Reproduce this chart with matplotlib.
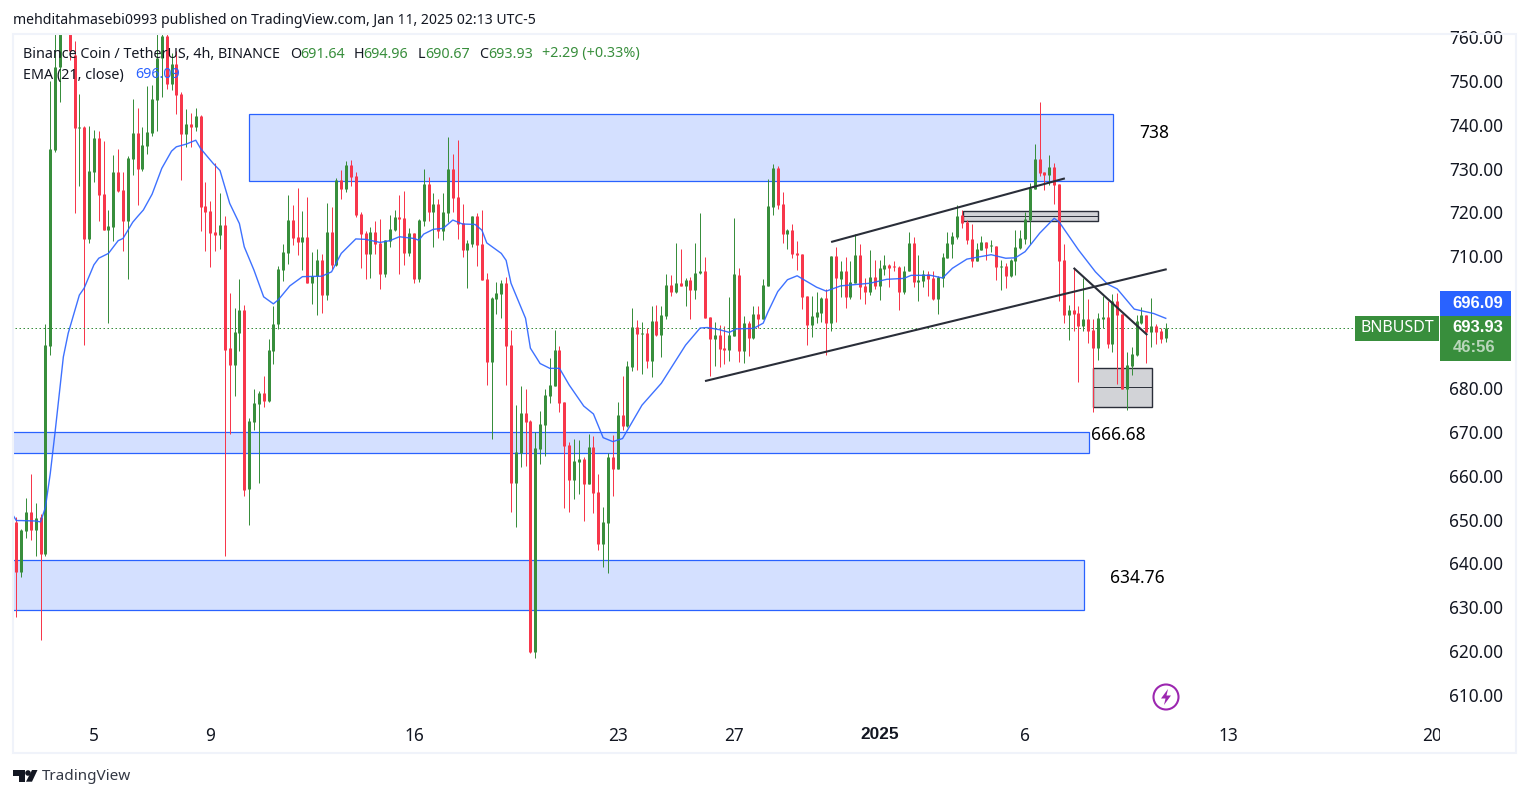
"""
plot.py
---------
BNBUSDT 4h candles with EMA 21, zones and trend lines
---------
"""
import matplotlib
matplotlib.use('Agg')
import matplotlib.pyplot as plt
from matplotlib.patches import Rectangle, Circle, Polygon
from matplotlib.transforms import Bbox, TransformedBbox, ScaledTranslation
import numpy as np

plt.rcParams['font.family'] = ['Noto Sans', 'DejaVu Sans']

opens = [649.7,638.3,647.7,651.9,647.8,650.8,642.4,689.8,734.5,753.5,
    763,775,756.1,739.4,739.8,714.2,729.4,737.2,724.4,716.2,
    716.9,729.4,725.3,718.3,732.4,738.3,730.1,735.4,738.3,745.9,
    755.4,760.5,749.5,754,747.2,738.1,740.4,739.7,742.2,721.7,
    720.6,715.8,715.1,717.4,689.3,685.4,692.8,698,657.2,672.4,
    676.6,679,677.2,688.6,694.9,707.1,711,718.5,714.6,713.5,
    714.6,704.1,705.7,709.4,701.4,715.8,708.2,727.6,725.6,731,
    728.5,719.9,715.5,710.8,715.8,713.3,706.2,713.7,716.2,719.2,
    719,711,715.5,705,718.3,726.7,720.3,722.2,716,720.1,
    730.1,723.7,717.8,711.7,713,719.4,713,705,686.1,700.5,
    701.6,704.1,690,658.6,665.4,674.5,672.7,620,666.3,671.8,
    678.4,680.7,688.9,677,667.2,659.2,663.4,664,658.3,666.8,
    656.5,644.7,649.4,664.5,661.8,674.1,671.6,685,694.1,692.5,
    692.8,686.4,695.5,692.3,696.6,703.7,702.1,704.2,703.5,704.9,
    702.6,706.5,706.9,696.4,691.4,692.3,689.3,688.9,692.1,706,
    688.7,695.1,691.6,697.1,696,703.5,721.5,730.4,722.2,715.4,
    716.3,711,710.8,701.2,694.6,696.4,697.3,700.8,695.1,710.3,
    705.1,706.9,701,704.2,710.6,703.5,702.1,705.6,703.5,707.4,
    708.3,707.9,707.8,702.1,706.9,713.3,704.4,704.7,706.3,705.3,
    700.6,705.3,709.9,713.1,714.7,719.6,718.1,714.2,709.2,711.7,
    713.5,712.5,712.6,707.8,708.1,705.8,709.2,712.2,714.2,718.5,
    725.6,732.4,729.4,728.8,730.6,726.7,709.4,696.8,698,697.3,
    694.3,695.9,693.4,689.3,695.9,696.4,690.2,700,697.1,680,
    685.2,687.7,695,696.8,693,694.3,693.2,691.64]
highs = [650.9,648,655.1,660.7,654,651.4,694.8,750.2,764,770,
    778,777,759.3,747.2,740,739.9,739,738.8,736.5,720.8,
    733.3,734.7,729.4,733.1,746.1,744,739.7,749.1,749.3,761,
    764,761,756.5,757,747.7,743.8,742.9,744,742.4,727.2,
    722.8,731.5,724.7,719.4,701.8,698.4,705,699.1,673.4,680.1,
    679.5,682.9,691.4,698.9,708,713,724.2,721.9,725.7,720.6,
    723.7,711.2,711.9,710.8,722.4,721.5,728.1,729.9,732,732.2,
    729.4,720.3,716,716.9,718.3,718.7,713.9,719.6,720.8,724.2,
    725.1,716.7,715.5,718.7,730.1,728.3,724.7,723.3,724.7,737.4,
    733.5,736.7,722.2,713.9,719.4,720.1,720.8,706.4,700.9,704.4,
    704.8,705.5,693.4,676.3,680.7,680,672.9,670.2,675,680,
    687,693.4,689.8,677,667.9,668.6,668.4,664.5,669.7,669.3,
    660.6,653.1,665.4,669.5,677,682.9,686.4,698.5,695.7,695.3,
    693.9,698.9,699.1,698.9,706.2,706,713.3,711.9,705.3,705.5,
    713.3,720.1,710.1,696.4,695.3,694.6,694.4,701,719,707.6,
    696.7,695.5,698.9,698.9,705.1,727.9,731.3,730.9,724.9,716.5,
    717.6,713.8,710.8,701.2,701.2,702.1,701,702.7,710.3,712.4,
    709.2,710.1,709.2,715.4,713.1,705.3,711.7,709.4,709.4,710.6,
    708.5,709.2,708.1,708.1,715.8,714.7,710.6,707.2,706.9,706.9,
    705.8,711,715.8,715.8,722,720.8,718.6,717.6,713.3,714.9,
    713.5,714,712.6,709.4,708.8,709.7,716.3,716.3,720.4,727,
    735.8,745.4,729.4,733.3,731.5,726.7,713,699.1,707.6,698.9,
    705.3,700.5,695.9,697.3,701.2,700,701.6,701.9,697.1,688.4,
    689.6,696.8,698.7,696.8,700.7,694.8,693.9,694.96]
lows = [628.1,637.2,646.1,645.5,641.9,622.7,641.9,687.7,734,745.5,
    762,755,720.2,726.3,690,713.2,727.2,718.3,716.2,695.1,
    713.7,724.9,711.4,705.1,728.8,721.9,729.7,733.6,737.7,738.8,
    746.6,748.3,748.1,742.7,727.6,735.1,735.1,738.8,716,711.4,
    707.8,711.4,711.9,641.9,669.7,678.4,688.7,655.6,648.9,670.6,
    658.5,675.9,677,685.7,693.6,704.6,708.5,712.8,710.5,707.1,
    704.1,699.4,696.8,697.3,700.3,707.3,708,723.3,724.9,726.3,
    719.2,707.6,705.1,705.3,710.8,702.8,705.5,712.3,716,706.2,
    708.2,710.3,704.1,704.4,717.1,718.3,712.3,714.4,713.9,718,
    720.3,714.2,710.1,703,712.3,708,704.8,680.9,668.6,697.1,
    696.2,680.9,652,648.5,662.2,662.4,619.8,618.7,662.9,664.7,
    676.8,680.6,674.7,652.9,652,654.9,656,649.9,658.3,651.7,
    643.3,639.4,638,655.6,661.8,670.6,671.3,684.1,684.3,683.4,
    684.8,682.7,692,687.3,695.9,701.2,701.9,703.5,698.9,696,
    700.5,706.2,696.2,683,685.3,685,685.7,686.4,692.1,686.2,
    686,687.5,691.4,693.9,696,703.5,719.7,721,713.3,711.9,
    709.9,707.1,698.3,690,691.9,695.1,695.3,687.8,693.2,695.3,
    701,698.5,700.5,704.2,700.5,699.4,701.5,702.8,700.3,706,
    703.3,706.9,698,701.7,706.9,703.3,700.1,703.3,701.2,700.3,
    697.1,703.3,709.9,709.9,714.2,716.7,713.1,707.8,709.2,711.7,
    709.4,711.3,704.9,702.6,703.1,705.6,706,712,713,713,
    725.6,728.5,725.3,726.5,722.2,700,695,691.1,693.2,681.6,
    693.2,690.5,674.8,686.6,693.9,689.3,688.4,681.1,680,675.3,
    683.2,687.5,694.8,685.9,689.6,690.2,690.5,690.67]
closes = [638.3,647.8,651.9,647.9,650.6,642.4,690,734.7,753.5,763,
    775,757.1,739.4,739.6,714.2,729.7,737.2,724.2,716.2,717.1,
    729.4,725.1,718.3,732.6,738.3,730.1,735.6,738.6,746.1,755.4,
    760.5,749.5,754,747,738.1,740.4,739.7,742.2,721.5,720.3,
    715.5,715.1,717.4,688.9,685.4,693,698,656.9,672.7,676.7,
    679,677.2,688.9,694.9,707.3,711.2,718.5,714.4,713.5,714.6,
    704.1,705.7,709.4,701.4,715.8,708.2,727.6,725.6,731,728.3,
    719.6,715.3,710.8,715.8,713,706.2,713.9,716.5,719.2,718.7,
    711,715.5,705,718.5,726.7,720.3,722.2,716,720.3,730.1,
    723.5,717.6,711.7,713.3,719.4,712.8,704.8,686.1,700.7,701.9,
    704.1,689.8,658.6,665.6,674.5,672.5,620,666.5,672,678.6,
    680.9,688.9,676.8,667,659.2,663.6,664,658.3,666.8,656.3,
    644.7,649.7,664.5,661.8,674.1,671.6,685.2,694.1,692.5,692.7,
    686.4,695.5,692.3,696.9,703.7,702.1,704.2,703.5,704.9,702.6,
    706.5,706.9,696.2,691.4,692.3,689.1,688.9,692.3,706.2,688.7,
    695.1,691.6,697.1,696,703.7,721.7,730.4,722,715.4,716.3,
    710.8,710.6,701,694.6,696.7,697.6,700.8,695.1,710.3,705.3,
    706.9,701,704.4,710.6,703.3,702.1,705.6,703.5,707.6,708.3,
    707.6,707.7,702.1,706.9,713.3,704.4,704.9,706.3,705.1,700.6,
    705.6,710.1,713.3,714.9,719.5,717.9,714,709.2,711.9,713.5,
    712.2,712.7,707.9,708,705.8,709.4,712.4,714.5,718.7,725.8,
    732.4,729.2,728.8,730.6,726.5,709.2,696.8,698,697.1,694.3,
    695.9,693.2,689.3,696.2,696.4,690.2,700,696.8,680,685.4,
    688,695.5,696.8,693,694.3,693,691.4,693.93]

# EMA at its bends
ema_x = [-0.6,0,1,4,5,6,7,8,9.7,10.7,13,14,16,17,19,21,22,24,25,26.2,28,30,32,33,35,37,38,
    40.6,42,44,46,47,49,51,53,54,56.4,59,63,65,67,70,72,75,77,79,82,83,84,86,88,90,92,94.6,
    96,97,100,101,102,105,106,108,110,112,114,117,119,121,123,125,126,129,133,138,141,142.5,
    145,147,148.5,152,154,155,157,159,161,163,165,167,170,176,179.5,183,184.5,188.5,191,193,
    196,201,204,206,208,211,214,215,219,222.5,225,227,230.5,234.5,237]
ema_y = [651.1,650,650,649.9,649.7,653,660.7,670.2,687.3,692.7,701.4,703,708.3,709.8,710.9,713.8,714.3,718,719.3,720.8,724.4,730.3,734.2,735.2,735.8,736.7,734.8,
    731.4,729.8,722.3,717.7,712.4,707.1,701,699.4,700.3,703.5,705.6,705.7,706.7,710.9,714.2,714.1,713.4,713.8,714.7,714.3,713.9,715.3,716.4,716.6,718.5,717.6,717.5,
    716.2,713.3,710.9,709.3,704.1,696.1,689.3,685.8,684.7,684.7,680.9,676.1,674.3,668.9,668,668.7,670.6,676.3,681.3,690,693.9,694,
    693.5,692.9,693.7,693.8,695,697.6,702.2,704.9,705.8,704.5,703.2,702.3,703.5,704.1,705,705.2,705.9,705.9,705.3,707.5,
    709.6,710.6,709.8,709.9,711.3,715.5,718.9,718.1,711.7,706.7,703.9,702.8,698.2,697.2,696.1]

last_close = 693.93
ema_last = 696.09
# 690 and 700 sit behind the price tags, so they get no label
y_ticks = [610, 620, 630, 640, 650, 660, 670, 680, 710, 720, 730, 740, 750, 760]
x_tick_pos = [16, 40, 82, 124, 148, 178, 208, 250, 292]
x_tick_labels = ['5', '9', '16', '23', '27', '2025', '6', '13', '20']

# zones: x start, x end, price low, price high
zone_x0 = [48, -2, -2]
zone_x1 = [226.1, 221.2, 220.1]
zone_lo = [727.4, 665.5, 629.7]
zone_hi = [742.7, 670.3, 640.9]
# grey boxes
box_x0 = [195.1, 222]
box_x1 = [223, 234.2]
box_lo = [718.35, 676]
box_hi = [720.6, 684.7]
# trend lines
line_x = [[142, 237.2], [168, 216.2], [218, 233.2]]
line_y = [[681.8, 707.3], [713.5, 728], [707.6, 692.3]]

GREEN = '#388e3c'
RED = '#f7374b'
BLUE = '#2962ff'
INK = '#131722'
LINE = '#2a2e39'

W, H = 1529, 798
fig = plt.figure(figsize=(W / 100, H / 100), dpi=100, facecolor='white')

#pixel position of the price pane
left, right, top, bottom = 14, 1440, 35, 716
ax = fig.add_axes([left / W, 1 - bottom / H, (right - left) / W, (bottom - top) / H])
STEP = 4.85
PPU = 4.387
ax.set_xlim((left - 16.3) / STEP, (right - 16.3) / STEP)
ax.set_ylim(760 - (bottom - 38) / PPU, 760 - (top - 38) / PPU)
for s in ax.spines.values():
    s.set_visible(False)

o = np.array(opens)
c = np.array(closes)
hi = np.array(highs)
lo = np.array(lows)
idx = np.arange(len(o))
cols = [GREEN if cl >= op else RED for op, cl in zip(o, c)]

for i in range(3):
    ax.add_patch(Rectangle((zone_x0[i], zone_lo[i]), zone_x1[i] - zone_x0[i], zone_hi[i] - zone_lo[i],
                           facecolor='#d4e0ff', edgecolor=BLUE, lw=0.9, zorder=1))
for i in range(2):
    ax.add_patch(Rectangle((box_x0[i], box_lo[i]), box_x1[i] - box_x0[i], box_hi[i] - box_lo[i],
                           facecolor='#d2d3d7', edgecolor=LINE, lw=1.0, zorder=1))
    ax.plot([box_x0[i], box_x1[i]], [(box_lo[i] + box_hi[i]) / 2] * 2, color=LINE, lw=0.7, zorder=1)

#wicks 1px, bodies 3px wide, butt caps so the body ends stay at open and close
ax.vlines(idx, lo, hi, colors=cols, lw=0.72, zorder=2)
body_h = np.maximum(np.abs(c - o), 0.3)
ax.vlines(idx, np.minimum(o, c), np.minimum(o, c) + body_h, colors=cols, lw=2.16, zorder=3,
          capstyle='butt')

ax.plot([-2, (1356 - 16.3) / STEP], [last_close, last_close], color=GREEN, lw=0.72,
        ls=(0, (1.5, 2.5)), zorder=2)
ax.plot(ema_x, ema_y, color=BLUE, lw=1.0, zorder=4, alpha=0.9)
for lx, ly in zip(line_x, line_y):
    ax.plot(lx, ly, color=LINE, lw=1.5, zorder=5, solid_capstyle='butt')

ax.yaxis.tick_right()
ax.set_yticks(y_ticks)
ax.set_yticklabels(['%.2f' % v for v in y_ticks])
ax.set_xticks(x_tick_pos)
ax.set_xticklabels(x_tick_labels)
ax.tick_params(axis='y', length=0, pad=6.5, labelsize=12.4, labelcolor=INK)
ax.tick_params(axis='x', length=0, pad=8, labelsize=12.4, labelcolor=INK)
up = ScaledTranslation(0, 1 / 100, fig.dpi_scale_trans)
for lab in ax.get_yticklabels():
    lab.set_transform(lab.get_transform() + up)
clip = TransformedBbox(Bbox([[0, 0], [right / W, 1]]), fig.transFigure)
for lab in ax.get_xticklabels():
    lab.set_clip_box(clip)
    lab.set_clip_on(True)
    if lab.get_text() == '2025':
        lab.set_fontfamily('Liberation Sans')
        lab.set_fontweight('bold')

#overlay in image pixels for labels, tags, logo
ov = fig.add_axes([0, 0, 1, 1], zorder=10)
ov.set_xlim(0, W)
ov.set_ylim(H, 0)
ov.axis('off')
ov.patch.set_alpha(0)

ov.add_patch(Rectangle((13, 34), 1503, 719, fill=False, edgecolor='#f0f3fa', lw=1.5))


def txt(x, y, s, color=INK, size=10.3, ha='left', **kw):
    ov.text(x, y, s, color=color, fontsize=size, ha=ha, va='center', **kw)


txt(13, 20, 'mehditahmasebi0993 published on TradingView.com, Jan 11, 2025 02:13 UTC-5', size=10.15)
txt(23, 54, 'Binance Coin / TetherUS, 4h, BINANCE')
for x, s in zip([290, 354, 418, 479], 'OHLC'):
    txt(x, 54, s)
for x, s in zip([300, 363, 425, 488], ['691.64', '694.96', '690.67', '693.93']):
    txt(x, 54, s, color=GREEN)
txt(542, 54, '+2.29 (+0.33%)', color=GREEN)
txt(23, 75, 'EMA (21, close)')
txt(135, 75, '696.09', color=BLUE)

txt(1154, 133, '738', color='black', size=12.5, ha='center')
txt(1118, 435, '666.68', color='black', size=12.5, ha='center')
txt(1137, 578, '634.76', color='black', size=12.5, ha='center')

ov.add_patch(Rectangle((1440, 291), 71, 25, facecolor=BLUE, lw=0))
ov.add_patch(Rectangle((1440, 316), 71, 45, facecolor=GREEN, lw=0))
ov.add_patch(Rectangle((1355, 316), 84, 25, facecolor=GREEN, lw=0))
bold = {'family': 'Liberation Sans', 'fontweight': 'bold'}
txt(1478, 304, '%.2f' % ema_last, color='white', size=12, ha='center', **bold)
txt(1478, 328, '%.2f' % last_close, color='white', size=12, ha='center', **bold)
txt(1474, 348, '46:56', color='#b9d6bb', size=12, ha='center', **bold)
txt(1397, 328.5, 'BNBUSDT', color='white', size=11.5, ha='center')

#lightning badge
ov.add_patch(Circle((1166, 697), 12.5, fill=False, edgecolor='#9c27b0', lw=1.5))
ov.add_patch(Polygon([(1168, 689), (1161, 698.5), (1165.5, 698.5), (1164, 705), (1171, 695.5), (1166.5, 695.5)],
                     facecolor='#9c27b0', lw=0))

#TradingView logo
ov.add_patch(Polygon([(13.3, 770), (25, 770), (25, 781.7), (19.3, 781.7), (19.3, 776), (13.3, 776)],
                     facecolor=INK, lw=0))
ov.add_patch(Circle((28, 773), 2.8, facecolor=INK, lw=0))
ov.add_patch(Polygon([(32, 770), (37.5, 770), (32, 781.7), (26, 781.7)], facecolor=INK, lw=0))
txt(42, 776, 'TradingView', color='#333844', size=11)

fig.savefig('out.png', dpi=100)
